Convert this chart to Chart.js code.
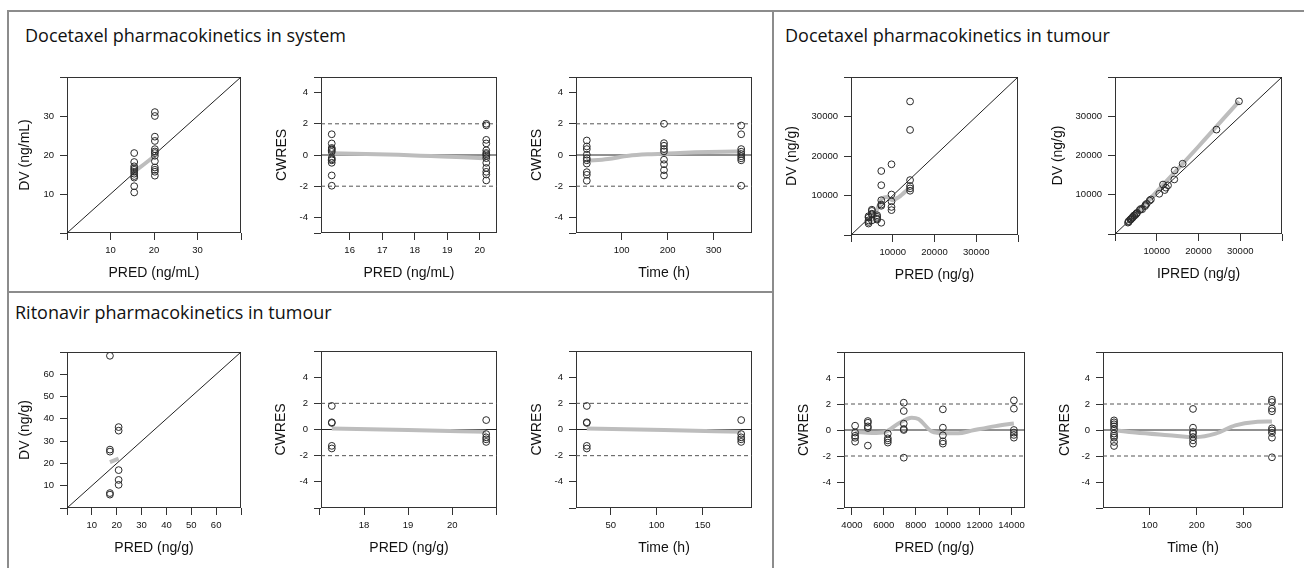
<!DOCTYPE html>
<html lang="en">
<head>
  <meta charset="UTF-8">
  <title>Goodness-of-fit plots</title>
  <script src="https://cdn.jsdelivr.net/npm/chart.js"></script>
  <style>
    body {
      margin: 0;
      padding: 0;
      background: #fff;
    }
    #wrap {
      position: relative;
      width: 1304px;
      height: 568px;
      overflow: hidden;
    }
    .rule {
      position: absolute;
      background: #8c8c8c;
    }
    .section {
      position: absolute;
      font-family: 'Open Sans', sans-serif;
      font-size: 18px;
      line-height: 20px;
      color: #111;
      white-space: nowrap;
    }
    canvas {
      position: absolute;
    }
  </style>
</head>
<body>
  <div id="wrap">
    <div class="rule" style="left:7px;top:10px;width:1297px;height:2px"></div>
    <div class="rule" style="left:7px;top:10px;width:2px;height:558px"></div>
    <div class="rule" style="left:772px;top:10px;width:2px;height:558px"></div>
    <div class="rule" style="left:7px;top:291px;width:766px;height:2px"></div>

    <div class="section" style="left:25px;top:25px">Docetaxel pharmacokinetics in system</div>
    <div class="section" style="left:15px;top:302px">Ritonavir pharmacokinetics in tumour</div>
    <div class="section" style="left:785px;top:25px">Docetaxel pharmacokinetics in tumour</div>
  </div>

  <script>
    // Docetaxel in system (plasma)
    const sysPredLevels = [15.45, 20.2];
    const sysDv = [
      [20.5, 18.2, 17.1, 16.6, 16.2, 15.7, 15.2, 14.6, 14.2, 12.0, 10.4],
      [31.0, 30.0, 24.7, 23.6, 21.5, 20.9, 20.5, 19.8, 18.4, 16.8, 16.2, 15.7, 14.7]
    ];
    const sysDvSmoothX = [15.45, 17.8, 20.2];
    const sysDvSmoothY = [15.7, 17.7, 19.8];
    const sysCwresByPred = [
      [1.33, 0.74, 0.45, 0.38, 0.3, 0.2, -0.19, -0.28, -0.34, -0.5, -1.31, -1.97],
      [2.0, 1.9, 0.97, 0.74, 0.3, 0.13, 0.05, -0.05, -0.2, -0.5, -0.83, -1.08, -1.25, -1.63]
    ];
    const sysPredSmoothX = [15.45, 16.5, 17.5, 18.5, 19.5, 20.2];
    const sysPredSmoothY = [0.12, 0.07, 0.01, -0.07, -0.15, -0.22];
    const sysTimeLevels = [24, 192, 360];
    const sysCwresByTime = [
      [0.93, 0.55, 0.38, 0.02, -0.21, -0.34, -0.55, -1.1, -1.27, -1.65],
      [2.0, 0.76, 0.59, 0.38, 0.23, -0.3, -0.59, -0.97, -1.31],
      [1.89, 1.33, 0.38, 0.21, 0.06, -0.08, -0.21, -0.34, -1.97]
    ];
    const sysTimeSmoothX = [24, 70, 115, 160, 200, 260, 320, 360];
    const sysTimeSmoothY = [-0.38, -0.25, -0.05, 0.05, 0.1, 0.17, 0.21, 0.22];

    // Ritonavir in tumour
    const ritPredLevels = [17.27, 20.77];
    const ritDv = [
      [68.3, 26.2, 25.3, 6.7, 6.0],
      [36.3, 34.7, 17.0, 12.6, 10.4]
    ];
    const ritDvSmoothX = [17.27, 20.77];
    const ritDvSmoothY = [20.6, 22.2];
    const ritTimeLevels = [24, 192];
    const ritCwres = [
      [1.8, 0.55, 0.5, -1.25, -1.45],
      [0.72, -0.35, -0.6, -0.75, -0.95]
    ];
    const ritPredSmoothX = [17.27, 19.0, 20.77];
    const ritTimeSmoothX = [24, 108, 192];
    const ritSmoothY = [0.07, -0.04, -0.17];

    // Docetaxel in tumour
    const tumPredLevels = [4200, 5000, 6250, 7250, 9700, 14150];
    const tumDv = [
      [4750, 4400, 3700, 3300, 2900],
      [6400, 6100, 5400, 5200, 3700],
      [5000, 4600, 4150, 3900],
      [16200, 12600, 8800, 7700, 7400, 3100],
      [17900, 10250, 8500, 7100, 6300],
      [33800, 26600, 13900, 12400, 11800, 11200]
    ];
    const tumIpred = [
      [4600, 4300, 3700, 3300, 3100],
      [6200, 5900, 5300, 5100, 3800],
      [5000, 4600, 4200, 3900],
      [14300, 11500, 8600, 7600, 7300, 3300],
      [16200, 10600, 8300, 7200, 6500],
      [29700, 24300, 14200, 12700, 12200, 11900]
    ];
    const tumDvSmoothX = [4200, 5000, 5800, 6600, 7440, 8640, 9840, 11440, 13840];
    const tumDvSmoothY = [3900, 4600, 5400, 7400, 9200, 9600, 8800, 9600, 11800];
    const tumIpredSmoothX = [3100, 10000, 20000, 29700];
    const tumIpredSmoothY = [2900, 10800, 22300, 33800];
    const tumCwresByPred = [
      [0.33, -0.2, -0.45, -0.6, -0.9],
      [0.69, 0.56, 0.28, 0.15, -1.2],
      [-0.28, -0.64, -0.8, -0.97],
      [2.1, 1.46, 0.49, 0.08, 0.0, -2.13],
      [1.59, 0.18, -0.41, -0.87, -1.05],
      [2.28, 1.64, 0.0, -0.2, -0.38, -0.59]
    ];
    const tumPredSmoothX = [4200, 5250, 6080, 6920, 7750, 8170, 9000, 9830, 10670, 11500, 13000, 14150];
    const tumPredSmoothY = [-0.15, -0.23, -0.15, 0.5, 0.95, 0.85, -0.1, -0.25, -0.25, -0.05, 0.3, 0.5];
    const tumTimeLevels = [24, 192, 360];
    const tumCwresByTime = [
      [0.74, 0.59, 0.44, 0.28, 0.05, -0.28, -0.45, -0.59, -0.92, -1.23],
      [1.62, 0.18, -0.15, -0.28, -0.54, -0.8, -1.05],
      [2.33, 2.15, 1.64, 1.44, 0.13, -0.03, -0.23, -0.59, -2.1]
    ];
    const tumTimeSmoothX = [24, 69, 140, 197, 240, 282, 325, 360];
    const tumTimeSmoothY = [-0.02, -0.2, -0.4, -0.55, -0.28, 0.36, 0.62, 0.65];

    // axis ticks
    const ticksSys = [0, 10, 20, 30, 40];
    const labelsSys = [10, 20, 30];
    const ticksRit = [0, 10, 20, 30, 40, 50, 60, 70];
    const labelsRit = [10, 20, 30, 40, 50, 60];
    const ticksTum = [0, 10000, 20000, 30000, 40000];
    const labelsTum = [10000, 20000, 30000];
    const ticksCw5 = [-5, -4, -2, 0, 2, 4, 5];
    const ticksCw6 = [-6, -4, -2, 0, 2, 4, 6];
    const labelsCw = [-4, -2, 0, 2, 4];
    const ticksSysPred = [16, 17, 18, 19, 20];
    const ticksRitPred = [17, 18, 19, 20, 21];
    const labelsRitPred = [18, 19, 20];
    const ticksTime = [100, 200, 300];
    const ticksRitTime = [50, 100, 150];
    const ticksTumPred = [4000, 6000, 8000, 10000, 12000, 14000];

    // one point per value, x taken from the group level
    function pts(levels, groups) {
      let out = [];
      groups.forEach((g, i) => g.forEach(v => out.push({ x: levels[i], y: v })));
      return out;
    }
    function groups2(xs, ys) {
      let out = [];
      xs.forEach((g, i) => g.forEach((v, j) => out.push({ x: v, y: ys[i][j] })));
      return out;
    }
    function line(xs, ys) {
      return xs.map((x, i) => ({ x: x, y: ys[i] }));
    }

    const circles = data => ({
      type: 'scatter', data: data, order: 1,
      pointStyle: 'circle', pointRadius: 3.4, pointBorderWidth: 1,
      pointBorderColor: '#2a2a2a', pointBackgroundColor: 'rgba(0,0,0,0)'
    });
    const smooth = data => ({
      type: 'line', data: data, order: 2, borderColor: '#bdbdbd', borderWidth: 4,
      pointRadius: 0, cubicInterpolationMode: 'monotone', fill: false
    });
    const refLine = (data, dash) => ({
      type: 'line', data: data, order: 3, borderColor: dash ? '#555' : '#222',
      borderWidth: 1, borderDash: dash ? [4, 3] : [], pointRadius: 0, tension: 0, fill: false
    });
    function identity(lo, hi) {
      return [refLine([{ x: lo, y: lo }, { x: hi, y: hi }], false)];
    }
    function cwresRefs(lo, hi) {
      return [
        refLine([{ x: lo, y: 0 }, { x: hi, y: 0 }], false),
        refLine([{ x: lo, y: 2 }, { x: hi, y: 2 }], true),
        refLine([{ x: lo, y: -2 }, { x: hi, y: -2 }], true)
      ];
    }

    const boxPlugin = {
      id: 'box',
      beforeDatasetsDraw(chart) {
        const a = chart.chartArea, ctx = chart.ctx;
        ctx.save();
        ctx.strokeStyle = '#333';
        ctx.lineWidth = 1;
        ctx.strokeRect(Math.round(a.left) + 0.5, Math.round(a.top) + 0.5,
          Math.round(a.right - a.left) - 1, Math.round(a.bottom - a.top) - 1);
        ctx.restore();
      }
    };

    const tickFont = { family: "'Liberation Sans', Arial, sans-serif", size: 9.5 };
    const titleFont = { family: "'Liberation Sans', Arial, sans-serif", size: 14 };

    function axis(min, max, ticks, labels, title, isX, size) {
      return {
        type: 'linear', min: min, max: max,
        afterBuildTicks: s => { s.ticks = ticks.map(v => ({ value: v })); },
        afterFit: s => {
          if (isX) s.height = size; else s.width = size;
          s.paddingLeft = 0; s.paddingRight = 0; s.paddingTop = 0; s.paddingBottom = 0;
        },
        ticks: {
          autoSkip: false, maxRotation: 0, minRotation: 0, padding: isX ? 5 : 6, color: '#111', font: tickFont,
          callback: v => labels.includes(v) ? String(v) : ''
        },
        grid: { drawOnChartArea: false, drawTicks: true, tickLength: 7, color: '#333', lineWidth: 1 },
        border: { display: false },
        title: { display: true, text: title, color: '#111', font: titleFont, padding: 0 }
      };
    }

    const panels = [
      { box: [67, 77, 241, 233], yOff: 42,
        x: [0, 40, ticksSys, labelsSys, 'PRED (ng/mL)'], y: [0, 40, ticksSys, labelsSys, 'DV (ng/mL)'],
        sets: identity(0, 40).concat([smooth(line(sysDvSmoothX, sysDvSmoothY)), circles(pts(sysPredLevels, sysDv))]) },
      { box: [321, 77, 497, 233], yOff: 39,
        x: [15.12, 20.53, ticksSysPred, ticksSysPred, 'PRED (ng/mL)'], y: [-5, 5, ticksCw5, labelsCw, 'CWRES'],
        sets: cwresRefs(15.12, 20.53).concat([smooth(line(sysPredSmoothX, sysPredSmoothY)), circles(pts(sysPredLevels, sysCwresByPred))]) },
      { box: [576, 77, 752, 233], yOff: 39,
        x: [0.5, 383.5, ticksTime, ticksTime, 'Time (h)'], y: [-5, 5, ticksCw5, labelsCw, 'CWRES'],
        sets: cwresRefs(0.5, 383.5).concat([smooth(line(sysTimeSmoothX, sysTimeSmoothY)), circles(pts(sysTimeLevels, sysCwresByTime))]) },
      { box: [67, 352, 241, 508], yOff: 42,
        x: [0, 70, ticksRit, labelsRit, 'PRED (ng/g)'], y: [0, 70, ticksRit, labelsRit, 'DV (ng/g)'],
        sets: identity(0, 70).concat([smooth(line(ritDvSmoothX, ritDvSmoothY)), circles(pts(ritPredLevels, ritDv))]) },
      { box: [321, 351, 497, 508], yOff: 40,
        x: [17.025, 21.015, ticksRitPred, labelsRitPred, 'PRED (ng/g)'], y: [-6, 6, ticksCw6, labelsCw, 'CWRES'],
        sets: cwresRefs(17.025, 21.015).concat([smooth(line(ritPredSmoothX, ritSmoothY)), circles(pts(ritPredLevels, ritCwres))]) },
      { box: [576, 351, 752, 508], yOff: 39,
        x: [12.24, 203.76, ticksRitTime, ticksRitTime, 'Time (h)'], y: [-6, 6, ticksCw6, labelsCw, 'CWRES'],
        sets: cwresRefs(12.24, 203.76).concat([smooth(line(ritTimeSmoothX, ritSmoothY)), circles(pts(ritTimeLevels, ritCwres))]) },
      { box: [851, 77, 1018, 235], yOff: 59,
        x: [0, 40000, ticksTum, labelsTum, 'PRED (ng/g)'], y: [0, 40000, ticksTum, labelsTum, 'DV (ng/g)'],
        sets: identity(0, 40000).concat([smooth(line(tumDvSmoothX, tumDvSmoothY)), circles(pts(tumPredLevels, tumDv))]) },
      { box: [1115, 77, 1282, 234], yOff: 57,
        x: [0, 40000, ticksTum, labelsTum, 'IPRED (ng/g)'], y: [0, 40000, ticksTum, labelsTum, 'DV (ng/g)'],
        sets: identity(0, 40000).concat([smooth(line(tumIpredSmoothX, tumIpredSmoothY)), circles(groups2(tumIpred, tumDv))]) },
      { box: [844, 352, 1025, 508], yOff: 40,
        x: [3504, 14846, ticksTumPred, ticksTumPred, 'PRED (ng/g)'], y: [-6, 6, ticksCw6, labelsCw, 'CWRES'],
        sets: cwresRefs(3504, 14846).concat([smooth(line(tumPredSmoothX, tumPredSmoothY)), circles(pts(tumPredLevels, tumCwresByPred))]) },
      { box: [1103, 352, 1283, 508], yOff: 38,
        x: [0.5, 383.5, ticksTime, ticksTime, 'Time (h)'], y: [-6, 6, ticksCw6, labelsCw, 'CWRES'],
        sets: cwresRefs(0.5, 383.5).concat([smooth(line(tumTimeSmoothX, tumTimeSmoothY)), circles(pts(tumTimeLevels, tumCwresByTime))]) }
    ];

    const wrap = document.getElementById('wrap');
    const padTop = 8, padRight = 8, xOff = 41;

    panels.forEach(p => {
      const [l, t, r, b] = p.box;
      const yw = Math.round(p.yOff + 8.4);
      const xh = Math.round(xOff + 8.4);
      const cv = document.createElement('canvas');
      cv.width = yw + (r - l) + padRight;
      cv.height = padTop + (b - t) + xh;
      cv.style.left = (l - yw) + 'px';
      cv.style.top = (t - padTop) + 'px';
      wrap.appendChild(cv);

      new Chart(cv.getContext('2d'), {
        type: 'scatter',
        data: { datasets: p.sets },
        options: {
          responsive: false,
          animation: false,
          layout: { padding: { top: padTop, right: padRight, left: 0, bottom: 0 } },
          plugins: { legend: { display: false }, tooltip: { enabled: false } },
          scales: {
            x: axis(p.x[0], p.x[1], p.x[2], p.x[3], p.x[4], true, xh),
            y: axis(p.y[0], p.y[1], p.y[2], p.y[3], p.y[4], false, yw)
          }
        },
        plugins: [boxPlugin]
      });
    });
  </script>
</body>
</html>
